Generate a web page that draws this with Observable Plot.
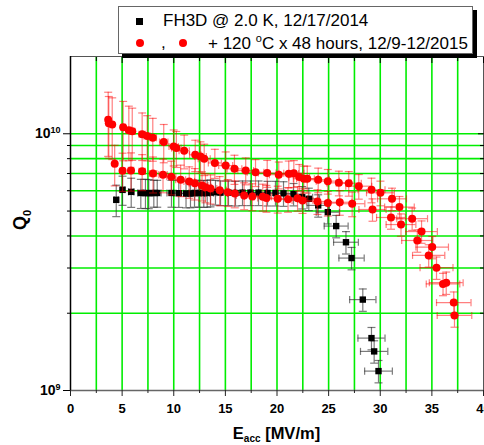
<!DOCTYPE html>
<html><head><meta charset="utf-8">
<script src="https://cdn.jsdelivr.net/npm/d3@7"></script>
<script src="https://cdn.jsdelivr.net/npm/@observablehq/plot@0.6"></script>
<style>
html,body{margin:0;padding:0;background:#fff;}
#wrap{position:relative;width:484px;height:445px;overflow:hidden;font-family:"Liberation Sans",Arial,sans-serif;color:#000;}
#wrap svg{position:absolute;left:0;top:0;}
.legend{position:absolute;left:118px;top:6px;width:355px;height:48px;box-sizing:border-box;border:1px solid #666;background:#fff;box-shadow:4px 4px 0 #000;font-size:17px;}
.legend .t{position:absolute;white-space:nowrap;line-height:17px;}
.legend .sq{position:absolute;width:7px;height:7px;background:#000;}
.legend .ci{position:absolute;width:8px;height:8px;border-radius:50%;background:#ff0000;}
.xlabel{position:absolute;left:70px;width:413px;top:425px;text-align:center;font-weight:bold;font-size:16.5px;line-height:16.5px;white-space:nowrap;}
.ylabel{position:absolute;left:21px;top:220px;transform:translate(-50%,-50%) rotate(-90deg);font-weight:bold;font-size:18px;line-height:18px;white-space:nowrap;}
</style></head>
<body>
<div id="wrap"></div>
<script>
// ---- data (Q in units of 1e9, errors in %) ----
const fh3dE = [4.43,5.04,5.88,6.81,7.26,7.58,8.07,8.40,9.78,10.49,11.19,11.62,12.01,12.43,12.91,13.24,13.56,14.04,14.53,15.30,15.98,16.66,17.43,18.21,19.08,19.85,20.63,21.60,22.44,23.08,23.99,24.92,25.73,26.68,27.22,28.31,29.15,29.41,29.83];
const fh3dQ = [5.53,6.05,5.94,5.88,5.88,5.87,5.88,5.88,5.88,5.87,5.85,5.85,5.88,5.88,5.87,5.88,5.90,5.93,5.90,5.90,5.88,5.90,5.90,5.90,5.88,5.88,5.86,5.82,5.66,5.58,5.26,4.95,4.37,3.78,3.28,2.26,1.60,1.42,1.19];
const fh3dErr = [14,13,13,13,13,13,12,12,12,12,12,12,12,12,12,12,12,11,11,11,11,11,11,11,11,11,11,10,10,10,10,10,10,10,10,10,10,10,10];

const bakeAE = [3.65,3.71,4.04,5.10,5.65,5.98,6.94,7.43,7.97,9.03,9.99,10.25,11.01,12.08,12.59,12.95,13.98,15.03,15.88,16.97,17.92,19.05,20.17,21.14,21.63,22.15,22.60,22.93,23.99,24.92,25.99,26.95,27.92,29.15,30.02,31.14,31.86,33.09,34.00,35.03,36.39,37.12];
const bakeAQ = [11.34,11.0,10.87,10.61,10.33,10.23,9.96,9.80,9.65,9.29,8.92,8.80,8.59,8.28,8.16,7.99,7.70,7.52,7.30,7.19,7.08,7.03,6.93,6.99,7.02,6.78,6.68,6.68,6.62,6.54,6.44,6.42,6.25,6.05,5.89,5.58,5.18,4.67,4.16,3.62,2.63,2.20];
const bakeAErr = [28,27,27,26,24,23,21,20,19,17,16,16,15,14,14,14,13,13,13,12,12,12,12,12,12,12,12,12,11,11,11,11,11,11,11,10,10,10,10,10,10,10];

const bakeBE = [4.28,5.04,5.86,6.94,7.99,8.96,9.76,10.67,11.50,12.04,12.74,13.07,13.56,14.45,15.23,15.91,16.82,17.61,18.62,18.98,20.07,21.07,21.99,22.47,23.92,24.92,26.08,27.28,29.25,31.04,32.01,33.59,34.69,35.45,36.08,37.19];
const bakeBQ = [7.64,7.18,7.20,7.15,7.00,6.93,6.80,6.62,6.52,6.42,6.29,6.19,6.12,6.03,5.92,5.85,5.75,5.70,5.68,5.62,5.58,5.56,5.61,5.50,5.45,5.37,5.41,5.34,5.07,4.72,4.43,3.84,3.36,3.01,2.60,1.96];
const bakeBErr = [18,17,17,16,16,15,15,14,14,14,13,13,13,13,12,12,12,12,12,12,12,11,11,11,11,11,11,11,10,10,10,10,10,10,10,10];

const eErrPct = 4.5;      // field uncertainty, %
const qUnit = 1e9;

const xMajor = [0,5,10,15,20,25,30,35,40];
const xMinor = [2.5,7.5,12.5,17.5,22.5,27.5,32.5,37.5];
const yMajor = [1e9,1e10];
const yMajorLabels = ["10^9","10^10"];
const yMinor = [2e9,3e9,4e9,5e9,6e9,7e9,8e9,9e9];

const legend1 = "FH3D @ 2.0 K, 12/17/2014";
const legend2a = "+ 120 ";
const legend2b = "C x 48 hours, 12/9-12/2015";

// ---- build rows ----
function rows(E, Q, err) {
  return E.map((e, i) => ({
    E: e, Q: Q[i] * qUnit,
    lo: Q[i] * qUnit * (1 - err[i] / 100), hi: Q[i] * qUnit * (1 + err[i] / 100),
    el: e * (1 - eErrPct / 100), eh: e * (1 + eErrPct / 100)
  }));
}
const black = rows(fh3dE, fh3dQ, fh3dErr);
const redA = rows(bakeAE, bakeAQ, bakeAErr);
const redB = rows(bakeBE, bakeBQ, bakeBErr);

const hCap = {draw(ctx, size) { const w = Math.sqrt(size) / 2; ctx.moveTo(-w, 0); ctx.lineTo(w, 0); }};
const vCap = {draw(ctx, size) { const w = Math.sqrt(size) / 2; ctx.moveTo(0, -w); ctx.lineTo(0, w); }};

function errBars(data, color, op) {
  const s = {stroke: color, strokeOpacity: op, strokeWidth: 1.2};
  return [
    Plot.ruleX(data, {x: "E", y1: "lo", y2: "hi", ...s}),
    Plot.ruleY(data, {y: "Q", x1: "el", x2: "eh", ...s}),
    Plot.dot(data, {x: "E", y: "lo", symbol: hCap, r: 4.5, fill: "none", ...s}),
    Plot.dot(data, {x: "E", y: "hi", symbol: hCap, r: 4.5, fill: "none", ...s}),
    Plot.dot(data, {x: "el", y: "Q", symbol: vCap, r: 4, fill: "none", ...s}),
    Plot.dot(data, {x: "eh", y: "Q", symbol: vCap, r: 4, fill: "none", ...s})
  ];
}

const green = "#00ee00";
const gridX = xMinor.concat(xMajor.slice(1, -1));
const gridY = yMinor.concat([1e10]);

const chart = Plot.plot({
  width: 484, height: 445,
  marginLeft: 70, marginRight: 1, marginTop: 56, marginBottom: 55,
  x: {domain: [0, 40]},
  y: {type: "log", domain: [1e9, 2e10]},
  style: {fontFamily: "'Liberation Sans', Arial, sans-serif", background: "transparent", color: "#000"},
  marks: [
    Plot.ruleX(gridX, {stroke: green, strokeWidth: 1.6}),
    Plot.ruleY(gridY, {stroke: green, strokeWidth: 1.6}),
    Plot.ruleY([2e10], {stroke: "#555"}),
    Plot.ruleX([40], {stroke: "#555"}),
    Plot.ruleY([1e9], {stroke: "#666", strokeWidth: 1.5}),
    Plot.ruleX([0], {stroke: "#000", strokeWidth: 1.5}),
    ...errBars(black, "#333", 0.65),
    Plot.dot(black, {x: "E", y: "Q", symbol: "square", r: 3.6, fill: "#000"}),
    ...errBars(redA, "#ff0000", 0.5),
    ...errBars(redB, "#ff0000", 0.5),
    Plot.dot(redA, {x: "E", y: "Q", r: 4, fill: "#ff0000"}),
    Plot.dot(redB, {x: "E", y: "Q", r: 4, fill: "#ff0000"}),
    Plot.axisX(xMajor, {anchor: "bottom", tickSize: 6, tickPadding: 7, fontSize: 13, fontWeight: "bold", stroke: "#222", fill: "#000", label: null, tickFormat: d => String(d)}),
    Plot.axisX(xMinor, {anchor: "bottom", tickSize: 3, stroke: "#222", fill: "none", label: null}),
    Plot.axisX(xMajor, {anchor: "top", tickSize: -6, stroke: "#000", fill: "none", label: null}),
    Plot.axisX(xMinor, {anchor: "top", tickSize: -4, stroke: "#000", fill: "none", label: null}),
    Plot.axisY(yMajor, {anchor: "left", tickSize: 7, tickPadding: 3, fontSize: 14, fontWeight: "bold", stroke: "#000", fill: "#000", label: null, tickFormat: d => yMajorLabels[yMajor.indexOf(d)]}),
    Plot.axisY(yMinor, {anchor: "left", tickSize: 3, stroke: "#000", fill: "none", label: null}),
    Plot.axisY([1e10], {anchor: "right", tickSize: -6, stroke: "#000", fill: "none", label: null}),
    Plot.axisY(yMinor, {anchor: "right", tickSize: -4, stroke: "#000", fill: "none", label: null})
  ]
});

// superscripts on the y tick labels
chart.querySelectorAll('[aria-label="y-axis tick label"] text').forEach(t => {
  const parts = t.textContent.split("^");
  if (parts.length < 2) return;
  t.textContent = parts[0];
  const ts = document.createElementNS("http://www.w3.org/2000/svg", "tspan");
  ts.setAttribute("dy", "-0.55em");
  ts.setAttribute("font-size", "9");
  ts.textContent = parts[1];
  t.appendChild(ts);
});

const wrap = document.getElementById("wrap");
wrap.appendChild(chart);

const lg = document.createElement("div");
lg.className = "legend";
lg.innerHTML =
  `<span class="sq" style="left:17px;top:11px"></span>` +
  `<span class="t" style="left:44px;top:4.6px">${legend1}</span>` +
  `<span class="ci" style="left:17px;top:32px"></span>` +
  `<span class="t" style="left:42px;top:26.6px">,</span>` +
  `<span class="ci" style="left:60px;top:32px"></span>` +
  `<span class="t" style="left:89px;top:27.6px">${legend2a}<span style="font-size:11px;position:relative;top:-7px">o</span>${legend2b}</span>`;
wrap.appendChild(lg);

const xl = document.createElement("div");
xl.className = "xlabel";
xl.innerHTML = `E<span style="font-size:10px;position:relative;top:3px">acc</span> [MV/m]`;
wrap.appendChild(xl);

const yl = document.createElement("div");
yl.className = "ylabel";
yl.innerHTML = `Q<span style="font-size:11px;position:relative;top:5px">0</span>`;
wrap.appendChild(yl);
</script>
</body></html>
